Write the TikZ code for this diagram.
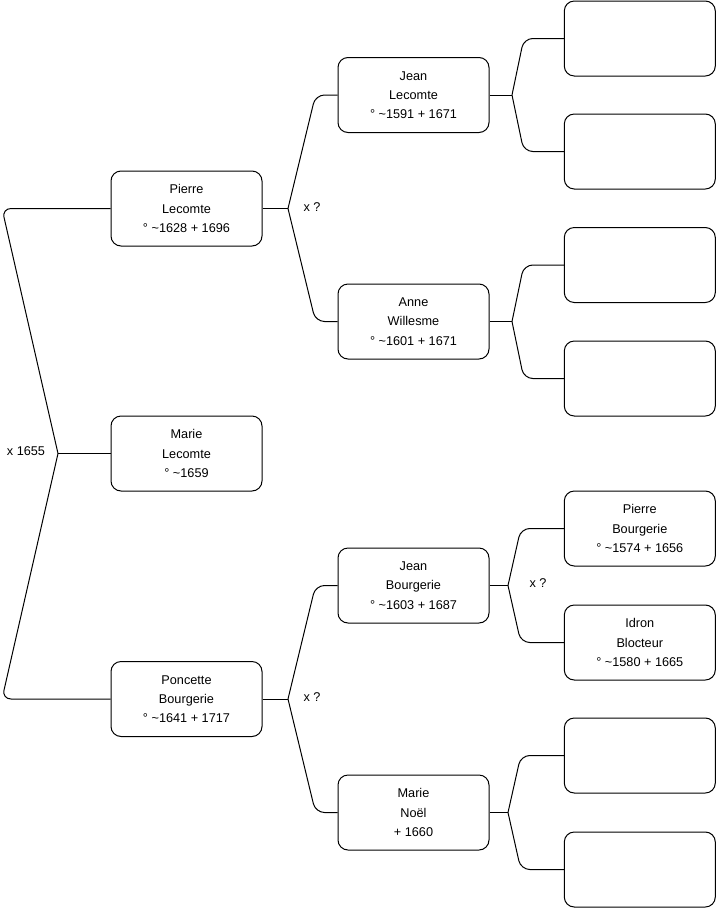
\documentclass[tikz,border=0pt]{standalone}
\usepackage{fontspec}
\setmainfont{Liberation Sans}
\begin{document}
\begin{tikzpicture}[x=1pt,y=-1pt,
  person/.style={draw=black, line width=1pt, rounded corners=10pt, minimum width=151pt, minimum height=75pt, align=center, inner sep=0pt, font=\fontsize{12.7}{19.3}\selectfont},
  link/.style={draw=black, line width=1pt},
  elbow/.style={link, rounded corners=9pt},
  lbl/.style={font=\fontsize{12.7}{14}\selectfont, inner sep=0pt}]
\useasboundingbox (0,0) rectangle (716,908);
% column 1
\node[person] (p)  at (186.5,208.5) {Pierre\\Lecomte\\° \textasciitilde1628 + 1696};
\node[person] (m)  at (186.5,453.5) {Marie\\Lecomte\\° \textasciitilde1659};
\node[person] (pc) at (186.5,699)   {Poncette\\Bourgerie\\° \textasciitilde1641 + 1717};
% column 2
\node[person] (jl) at (413.5,95)    {Jean\\Lecomte\\° \textasciitilde1591 + 1671};
\node[person] (aw) at (413.5,321.5) {Anne\\Willesme\\° \textasciitilde1601 + 1671};
\node[person] (jb) at (413.5,585.5) {Jean\\Bourgerie\\° \textasciitilde1603 + 1687};
\node[person] (mn) at (413.5,812.5) {Marie\\Noël\\+ 1660};
% column 3
\node[person] (r1) at (639.8,38.5)  {};
\node[person] (r2) at (639.8,151.5) {};
\node[person] (r3) at (639.8,265)   {};
\node[person] (r4) at (639.8,378.5) {};
\node[person] (r5) at (639.8,528.5) {Pierre\\Bourgerie\\° \textasciitilde1574 + 1656};
\node[person] (r6) at (639.8,642.5) {Idron\\Blocteur\\° \textasciitilde1580 + 1665};
\node[person] (r7) at (639.8,755.5) {};
\node[person] (r8) at (639.8,869.5) {};
% left bracket
\coordinate (j0) at (58,453.5);
\draw[link] (m.west) -- (j0);
\draw[elbow] (j0) -- (2,208.5) -- (p.west);
\draw[elbow] (j0) -- (2,699) -- (pc.west);
\node[lbl] (l0) at (26,451) {x 1655};
% middle brackets
\coordinate (j1) at (288,208.5);
\draw[link] (p.east) -- (j1);
\draw[elbow] (j1) -- ([xshift=-22pt]jl.west) -- (jl.west);
\draw[elbow] (j1) -- ([xshift=-22pt]aw.west) -- (aw.west);
\node[lbl] (l1) at (312,207) {x ?};
\coordinate (j2) at (288,699);
\draw[link] (pc.east) -- (j2);
\draw[elbow] (j2) -- ([xshift=-22pt]jb.west) -- (jb.west);
\draw[elbow] (j2) -- ([xshift=-22pt]mn.west) -- (mn.west);
\node[lbl] (l2) at (312,697) {x ?};
% right brackets
\coordinate (j3) at (512,95);
\draw[link] (jl.east) -- (j3);
\draw[elbow] (j3) -- ([xshift=-40pt]r1.west) -- (r1.west);
\draw[elbow] (j3) -- ([xshift=-40pt]r2.west) -- (r2.west);
\coordinate (j4) at (512,321.5);
\draw[link] (aw.east) -- (j4);
\draw[elbow] (j4) -- ([xshift=-40pt]r3.west) -- (r3.west);
\draw[elbow] (j4) -- ([xshift=-40pt]r4.west) -- (r4.west);
\coordinate (j5) at (508,585.5);
\draw[link] (jb.east) -- (j5);
\draw[elbow] (j5) -- ([xshift=-43pt]r5.west) -- (r5.west);
\draw[elbow] (j5) -- ([xshift=-43pt]r6.west) -- (r6.west);
\node[lbl] (l3) at (538,583) {x ?};
\coordinate (j6) at (508,812.5);
\draw[link] (mn.east) -- (j6);
\draw[elbow] (j6) -- ([xshift=-43pt]r7.west) -- (r7.west);
\draw[elbow] (j6) -- ([xshift=-43pt]r8.west) -- (r8.west);
\end{tikzpicture}
\end{document}
